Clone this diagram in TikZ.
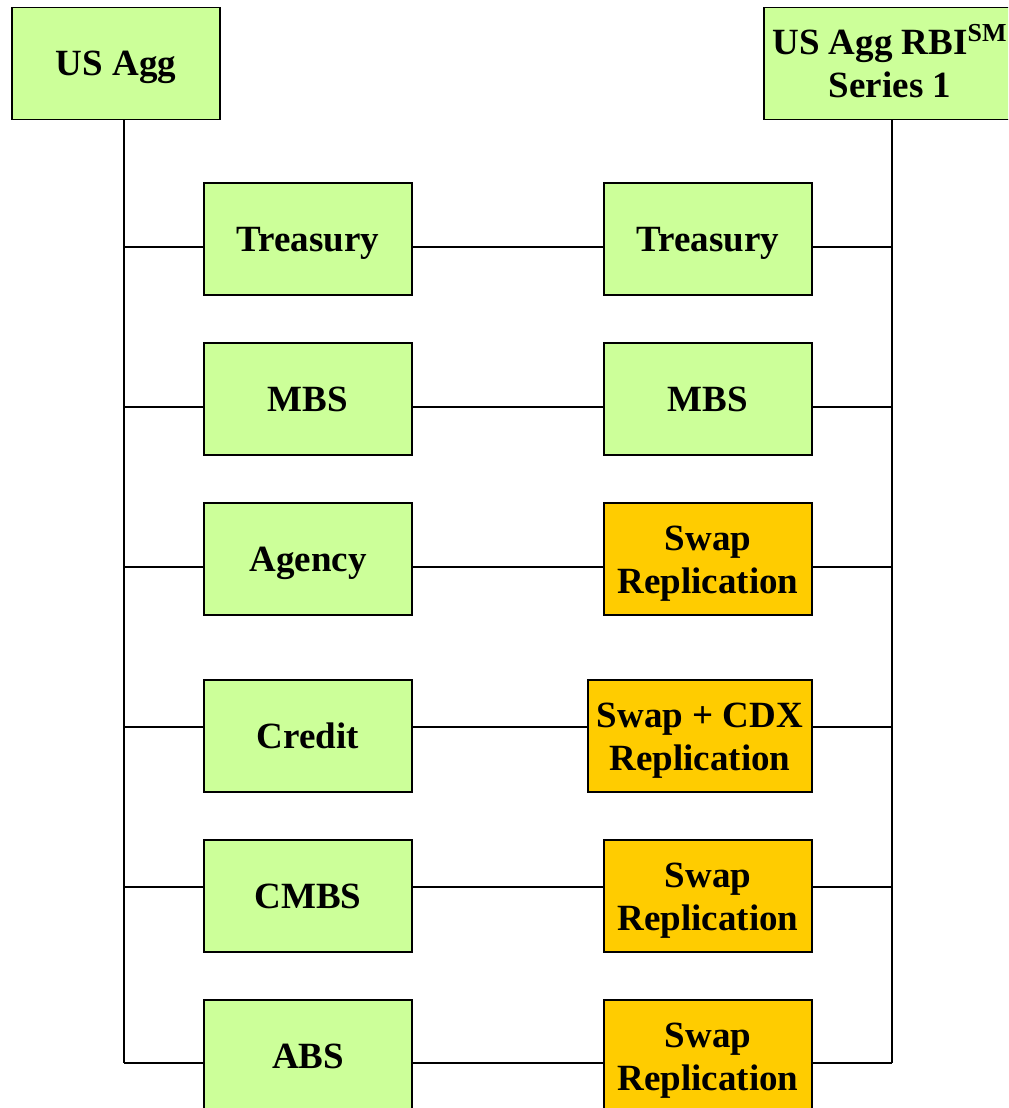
\documentclass[tikz,border=0pt]{standalone}
\usepackage{fontspec}
\setmainfont{Liberation Serif}
\definecolor{boxgreen}{HTML}{CCFF99}
\definecolor{boxorange}{HTML}{FFCC00}
\newcommand{\fs}{\rule[-4pt]{0pt}{20.5pt}}
\begin{document}
\begin{tikzpicture}[x=0.5pt,y=-0.5pt,
  box/.style={draw=black,line width=0.9pt,fill=boxgreen,minimum width=104pt,minimum height=56pt,
    inner sep=0pt,align=center,font=\fontsize{18.5}{21.5}\selectfont\bfseries},
  swapbox/.style={box,fill=boxorange},
  conn/.style={line width=0.9pt,black}]
\useasboundingbox (0,0) rectangle (1008,1108);
\clip (0,0) rectangle (1008,1108);
% top boxes
\node[box] (usagg) at (116,63.5) {\fs US Agg};
\node[box,minimum width=126pt] (rbi) at (890,63.5) {\fs US Agg RBI\textsuperscript{SM}\\\fs Series 1};
% left column
\node[box] (l1) at (308,239) {\fs Treasury};
\node[box] (l2) at (308,399) {\fs MBS};
\node[box] (l3) at (308,559) {\fs Agency};
\node[box] (l4) at (308,736) {\fs Credit};
\node[box] (l5) at (308,896) {\fs CMBS};
\node[box] (l6) at (308,1056) {\fs ABS};
% right column
\node[box] (r1) at (708,239) {\fs Treasury};
\node[box] (r2) at (708,399) {\fs MBS};
\node[swapbox] (r3) at (708,559) {\fs Swap\\\fs Replication};
\node[swapbox,minimum width=112pt] (r4) at (700,736) {\fs Swap + CDX\\\fs Replication};
\node[swapbox] (r5) at (708,896) {\fs Swap\\\fs Replication};
\node[swapbox] (r6) at (708,1056) {\fs Swap\\\fs Replication};
% junction coordinates
\coordinate (A1) at (124,247); \coordinate (B1) at (892,247);
\coordinate (A2) at (124,407); \coordinate (B2) at (892,407);
\coordinate (A3) at (124,567); \coordinate (B3) at (892,567);
\coordinate (A4) at (124,727); \coordinate (B4) at (892,727);
\coordinate (A5) at (124,887); \coordinate (B5) at (892,887);
\coordinate (A6) at (124,1063); \coordinate (B6) at (892,1063);
% spines
\draw[conn] (usagg.south -| A6) -- (A6);
\draw[conn] (rbi.south -| B6) -- (B6);
% rows
\foreach \i in {1,...,6}{
  \draw[conn] (A\i) -- (l\i.west |- A\i);
  \draw[conn] (l\i.east |- A\i) -- (r\i.west |- A\i);
  \draw[conn] (r\i.east |- B\i) -- (B\i);
}
\end{tikzpicture}
\end{document}
